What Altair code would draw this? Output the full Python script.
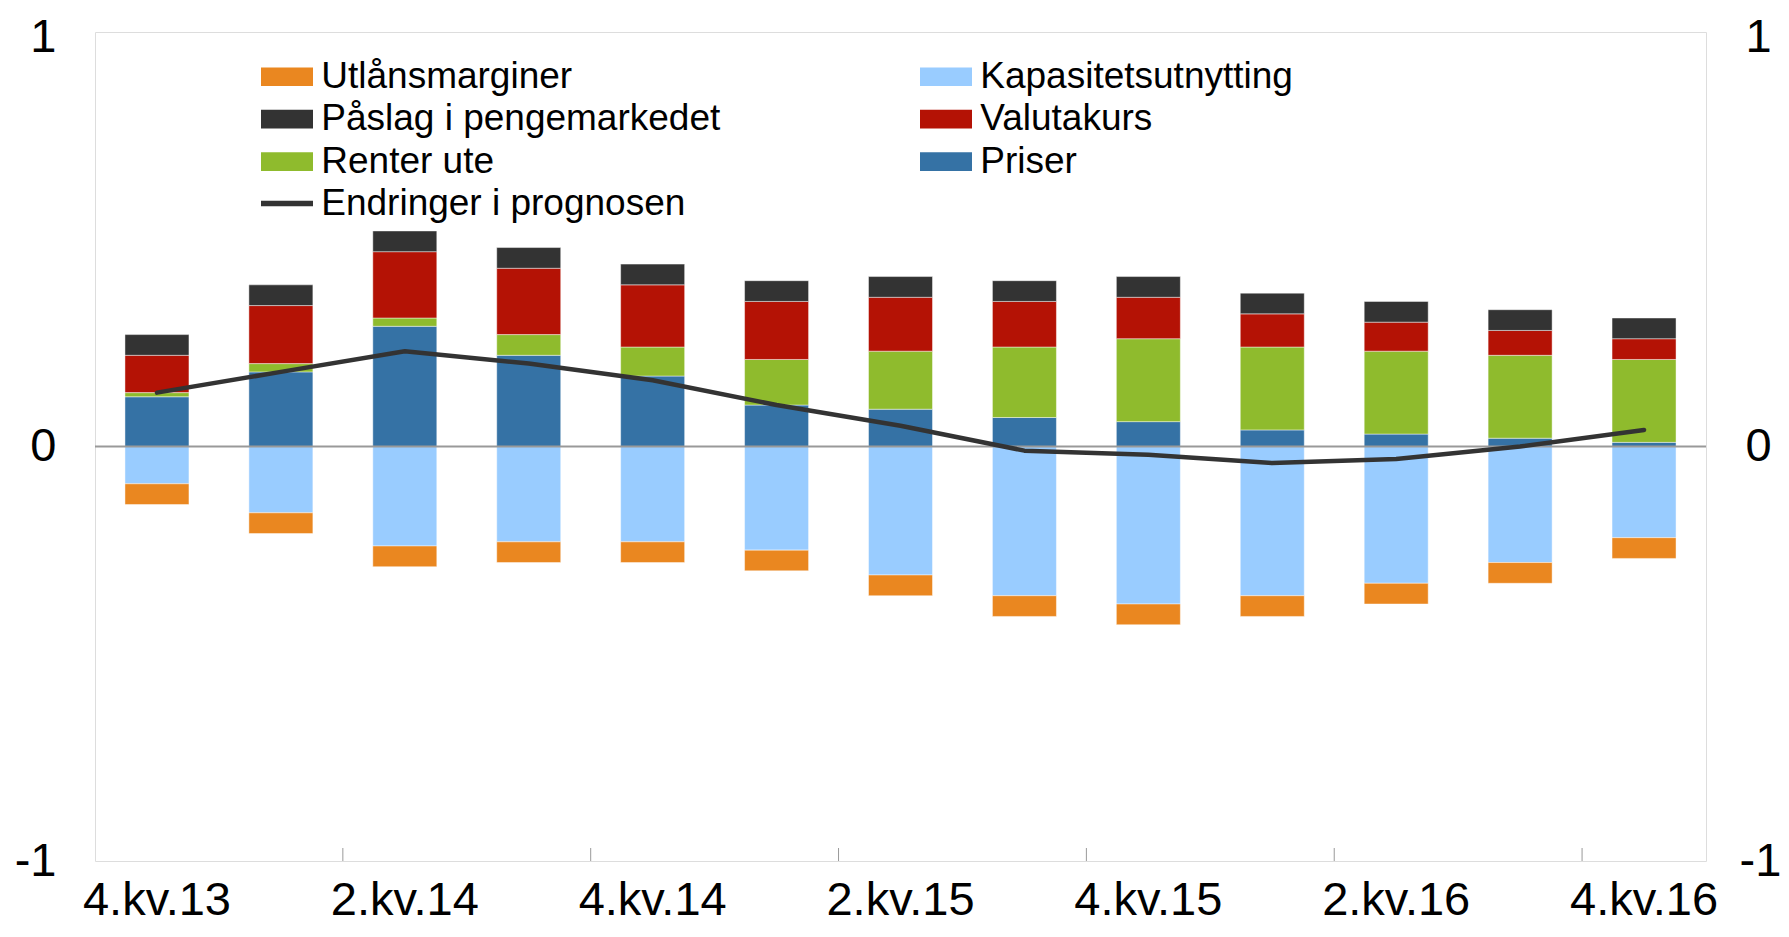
import altair as alt
import pandas as pd

# ---- data ----
quarters = ["4.kv.13", "1.kv.14", "2.kv.14", "3.kv.14", "4.kv.14", "1.kv.15", "2.kv.15",
            "3.kv.15", "4.kv.15", "1.kv.16", "2.kv.16", "3.kv.16", "4.kv.16"]
label_quarters = ["4.kv.13", "2.kv.14", "4.kv.14", "2.kv.15", "4.kv.15", "2.kv.16", "4.kv.16"]
tick_quarters = ["2.kv.14", "4.kv.14", "2.kv.15", "4.kv.15", "2.kv.16", "4.kv.16"]

priser = [0.12, 0.18, 0.29, 0.22, 0.17, 0.10, 0.09, 0.07, 0.06, 0.04, 0.03, 0.02, 0.01]
renter_ute = [0.01, 0.02, 0.02, 0.05, 0.07, 0.11, 0.14, 0.17, 0.20, 0.20, 0.20, 0.20, 0.20]
valutakurs = [0.09, 0.14, 0.16, 0.16, 0.15, 0.14, 0.13, 0.11, 0.10, 0.08, 0.07, 0.06, 0.05]
paslag = [0.05, 0.05, 0.05, 0.05, 0.05, 0.05, 0.05, 0.05, 0.05, 0.05, 0.05, 0.05, 0.05]
kapasitet = [-0.09, -0.16, -0.24, -0.23, -0.23, -0.25, -0.31, -0.36, -0.38, -0.36, -0.33, -0.28, -0.22]
utlan = [-0.05, -0.05, -0.05, -0.05, -0.05, -0.05, -0.05, -0.05, -0.05, -0.05, -0.05, -0.05, -0.05]
endringer = [0.13, 0.18, 0.23, 0.20, 0.16, 0.10, 0.05, -0.01, -0.02, -0.04, -0.03, 0.00, 0.04]

series_names = ["Priser", "Renter ute", "Valutakurs", "Påslag i pengemarkedet",
                "Kapasitetsutnytting", "Utlånsmarginer"]
series_values = [priser, renter_ute, valutakurs, paslag, kapasitet, utlan]
# legend listed column by column (two columns of three)
legend_order = ["Utlånsmarginer", "Påslag i pengemarkedet", "Renter ute",
                "Kapasitetsutnytting", "Valutakurs", "Priser"]
legend_colors = ["#EA8720", "#333333", "#8FBB2D", "#99CCFF", "#B41205", "#3572A5"]
line_name = "Endringer i prognosen"

rows = []
for k, (name, vals) in enumerate(zip(series_names, series_values)):
    for q, v in zip(quarters, vals):
        rows.append({"q": q, "serie": name, "v": v, "ord": k})
bars_df = pd.DataFrame(rows)
line_df = pd.DataFrame({"q": quarters, "v": endringer, "serie": line_name})
zero_df = pd.DataFrame({"y": [0]})
tick_df = pd.DataFrame({"q": tick_quarters})

FONT = "Liberation Sans"
W, H = 1611, 829
GRAY = "#999999"

xscale = alt.Scale(domain=quarters, paddingInner=0, paddingOuter=0)
yscale = alt.Scale(domain=[-1, 1], nice=False, zero=False)

label_list = "[" + ",".join("'%s'" % q for q in label_quarters) + "]"
x_axis = alt.Axis(labelExpr="indexof(%s, datum.value) >= 0 ? datum.value : ''" % label_list,
                  labelAngle=0, ticks=False, domain=False, grid=False, title=None,
                  labelFont=FONT, labelFontSize=47, labelPadding=16, labelColor="#000000",
                  labelOverlap=False)

ax_common = dict(values=[-1, 0, 1], labelExpr="'' + datum.value", ticks=False,
                 domain=False, grid=False, title=None, labelFont=FONT, labelFontSize=47,
                 labelColor="#000000",
                 labelOffset={"condition": {"test": "datum.value == 1", "value": 5}, "value": 0})

bars = alt.Chart(bars_df).mark_bar(size=64, stroke="white", strokeWidth=1, strokeOpacity=0.45).encode(
    x=alt.X("q:N", scale=xscale, sort=quarters, axis=x_axis),
    y=alt.Y("v:Q", stack="zero", scale=yscale,
            axis=alt.Axis(orient="left", labelPadding=39, **ax_common)),
    fill=alt.Fill("serie:N", scale=alt.Scale(domain=legend_order, range=legend_colors),
                  legend=alt.Legend(orient="none", legendX=173.5, legendY=26, columns=2,
                                    direction="vertical",
                                    columnPadding=199, rowPadding=4.6,
                                    symbolType="M-2,-0.72H2V0.72H-2Z", symbolSize=676,
                                    symbolStrokeWidth=0, symbolOpacity=1,
                                    labelFont=FONT, labelFontSize=37, labelOffset=15.75,
                                    labelLimit=900, padding=0, title=None,
                                    labelColor="#000000")),
    order=alt.Order("ord:Q"),
)

zero = alt.Chart(zero_df).mark_rule(color=GRAY, strokeWidth=2).encode(
    y=alt.Y("y:Q", scale=yscale, axis=None)
)

ticks = alt.Chart(tick_df).mark_rule(color=GRAY, strokeWidth=1).encode(
    x=alt.X("q:N", scale=xscale, sort=quarters, bandPosition=0, axis=x_axis),
    y=alt.value(H),
    y2=alt.value(H - 13),
)

line = alt.Chart(line_df).mark_line(strokeWidth=4.5, strokeCap="round", strokeJoin="round").encode(
    x=alt.X("q:N", scale=xscale, sort=quarters, axis=x_axis),
    y=alt.Y("v:Q", scale=yscale,
            axis=alt.Axis(orient="right",
                          labelPadding={"condition": {"test": "datum.value == -1", "value": 33},
                                        "value": 39},
                          **ax_common)),
    stroke=alt.Stroke("serie:N", scale=alt.Scale(domain=[line_name], range=["#333333"]),
                      legend=alt.Legend(orient="none", legendX=173.5, legendY=153,
                                        symbolType="M-2,0H2", symbolSize=676,
                                        symbolStrokeWidth=5.3, labelFont=FONT,
                                        labelFontSize=37, labelOffset=15.75, labelLimit=900,
                                        padding=0, title=None, labelColor="#000000")),
)

chart = alt.layer(bars, zero, ticks, line).resolve_axis(y="independent").properties(
    width=W, height=H,
    padding={"left": 87, "top": 24, "right": 75, "bottom": 63},
    autosize=alt.AutoSizeParams(type="none"),
    background="white",
).configure_view(stroke=GRAY, strokeWidth=1.5).configure(font=FONT)

chart.save("out.html", embed_options={"renderer": "svg", "actions": False})
